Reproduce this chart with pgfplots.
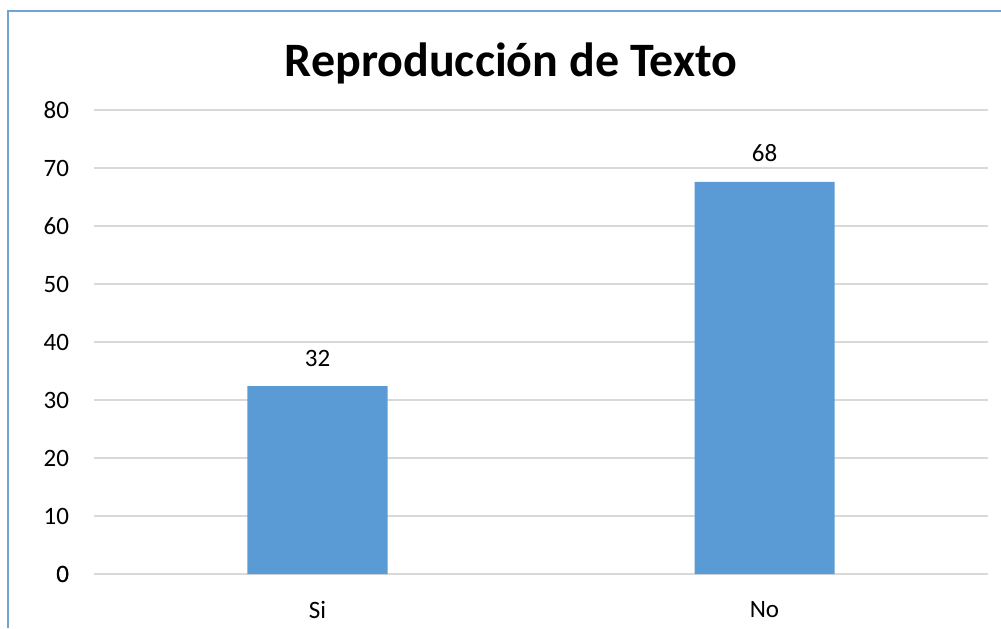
\documentclass[border=0pt]{standalone}
\usepackage{pgfplots}
\pgfplotsset{compat=1.18}
\usepackage{fontspec}
\setmainfont{Carlito}
\definecolor{barblue}{HTML}{5B9BD5}
\definecolor{framblue}{HTML}{6FA3D8}
\definecolor{gridgray}{HTML}{D9D9D9}
\begin{document}
\begin{tikzpicture}
\path[use as bounding box] (-47pt,-27pt) rectangle (453.5pt,287pt);
\begin{axis}[
  at={(0,0)}, anchor=south west,
  scale only axis, width=447pt, height=232pt,
  xmin=-0.5, xmax=1.5, ymin=0, ymax=80,
  ytick={0,10,...,80},
  xtick={0,1}, xticklabels={Si,No},
  axis line style={draw=none},
  tick style={draw=none},
  ymajorgrids, grid style={gridgray, line width=0.9pt},
  extra y ticks={0}, extra y tick style={grid style={gridgray, line width=0.9pt}},
  ybar, bar width=70pt,
  /pgf/number format/assume math mode=true,
  tick label style={font=\fontsize{12.5}{14}\selectfont},
  yticklabel style={xshift=-9pt},
  xticklabel style={yshift=-6pt},
  point meta=explicit symbolic,
  nodes near coords,
  every node near coord/.append style={font=\fontsize{12.5}{14}\selectfont, anchor=base, inner sep=0pt, yshift=10pt},
]
\addplot[fill=barblue, draw=none] coordinates {(0,32.4) [32] (1,67.6) [68]};
\end{axis}
\node[anchor=base, font=\bfseries\fontsize{24}{28}\selectfont, inner sep=0pt] at (208.5pt,248.5pt) {Reproducción de Texto};
\draw[framblue, line width=1pt] (-43pt,-27pt) -- (-43pt,281.5pt) -- (453.5pt,281.5pt);
\end{tikzpicture}
\end{document}
